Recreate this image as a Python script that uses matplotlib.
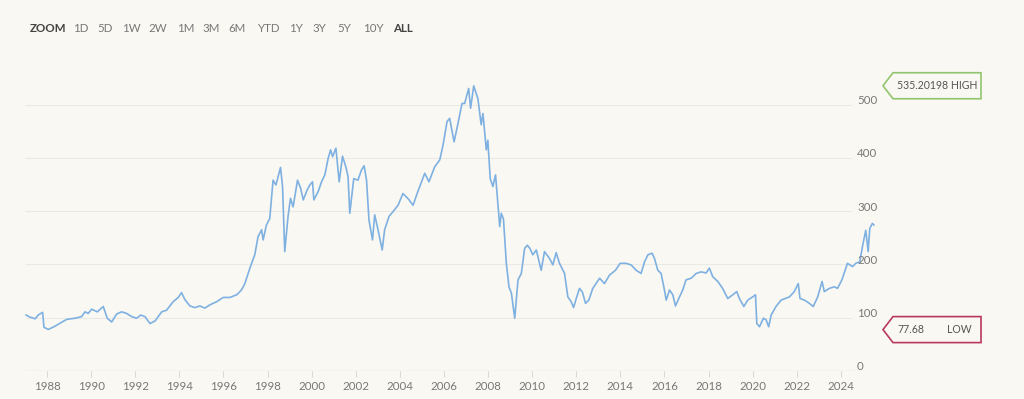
import matplotlib
matplotlib.use("Agg")
import matplotlib.pyplot as plt
import matplotlib.transforms as mtransforms
from matplotlib.patches import Polygon

# price history (decimal year, index level)
years = [
    1987.05, 1987.23, 1987.46, 1987.6, 1987.8, 1987.86, 1988.06, 1988.36, 1988.56, 1988.9,
    1989.27, 1989.57, 1989.72, 1989.87, 1990.02, 1990.28, 1990.55, 1990.73, 1990.93, 1991.16,
    1991.38, 1991.61, 1991.84, 1992.06, 1992.25, 1992.44, 1992.67, 1992.9, 1993.2, 1993.42,
    1993.72, 1993.95, 1994.1, 1994.25, 1994.48, 1994.7, 1994.93, 1995.16, 1995.38, 1995.69,
    1995.99, 1996.29, 1996.6, 1996.82, 1996.97, 1997.2, 1997.42, 1997.57, 1997.73, 1997.8,
    1997.95, 1998.1, 1998.25, 1998.38, 1998.59, 1998.68, 1998.78, 1998.93, 1999.04, 1999.16,
    1999.36, 1999.5, 1999.62, 1999.8, 1999.92, 2000.04, 2000.1, 2000.3, 2000.45, 2000.6,
    2000.75, 2000.86, 2000.95, 2001.1, 2001.25, 2001.4, 2001.55, 2001.65, 2001.73, 2001.91,
    2002.1, 2002.26, 2002.38, 2002.49, 2002.6, 2002.76, 2002.86, 2003.01, 2003.2, 2003.31,
    2003.51, 2003.69, 2003.92, 2004.14, 2004.4, 2004.6, 2004.82, 2005.13, 2005.32, 2005.58,
    2005.81, 2005.96, 2006.14, 2006.26, 2006.46, 2006.64, 2006.82, 2006.94, 2007.12, 2007.21,
    2007.35, 2007.54, 2007.69, 2007.77, 2007.92, 2007.99, 2008.1, 2008.22, 2008.34, 2008.53,
    2008.6, 2008.7, 2008.83, 2008.95, 2009.06, 2009.21, 2009.36, 2009.51, 2009.66, 2009.78,
    2009.9, 2010.03, 2010.19, 2010.41, 2010.56, 2010.79, 2010.94, 2011.09, 2011.24, 2011.47,
    2011.62, 2011.77, 2011.88, 2012.0, 2012.15, 2012.28, 2012.42, 2012.57, 2012.75, 2013.06,
    2013.28, 2013.51, 2013.78, 2013.99, 2014.26, 2014.49, 2014.72, 2014.94, 2015.1, 2015.25,
    2015.44, 2015.55, 2015.7, 2015.85, 2016.0, 2016.08, 2016.23, 2016.38, 2016.5, 2016.65,
    2016.83, 2016.98, 2017.21, 2017.44, 2017.66, 2017.89, 2018.04, 2018.19, 2018.42, 2018.64,
    2018.87, 2019.1, 2019.28, 2019.4, 2019.6, 2019.78, 2020.0, 2020.13, 2020.19, 2020.31,
    2020.49, 2020.61, 2020.73, 2020.84, 2021.06, 2021.29, 2021.48, 2021.67, 2021.89, 2022.07,
    2022.15, 2022.35, 2022.57, 2022.75, 2022.95, 2023.15, 2023.25, 2023.48, 2023.7, 2023.85,
    2024.05, 2024.3, 2024.53, 2024.68, 2024.86, 2024.98, 2025.13, 2025.24, 2025.31, 2025.43,
    2025.5,
]
values = [
    105, 101, 98, 105, 110, 82, 78, 84, 89, 97,
    99, 102, 111, 108, 116, 111, 121, 99, 92, 107,
    111, 108, 102, 99, 105, 102, 89, 94, 111, 114,
    130, 138, 147, 134, 122, 119, 122, 118, 124, 130,
    138, 138, 143, 152, 164, 193, 218, 252, 265, 246,
    274, 286, 358, 349, 382, 346, 224, 290, 324, 308,
    358, 343, 321, 340, 349, 355, 321, 337, 355, 368,
    399, 415, 402, 418, 355, 403, 383, 365, 296, 361,
    358, 377, 385, 358, 283, 246, 293, 265, 227, 265,
    290, 299, 311, 333, 322, 311, 337, 371, 355, 383,
    396, 424, 468, 474, 430, 465, 502, 502, 530, 493,
    535, 511, 462, 483, 415, 433, 361, 346, 368, 271,
    296, 285, 202, 158, 146, 99, 171, 183, 230, 236,
    230, 218, 227, 189, 224, 211, 199, 222, 202, 183,
    139, 130, 119, 136, 155, 148, 127, 133, 155, 174,
    164, 180, 189, 202, 202, 199, 189, 183, 205, 218,
    221, 211, 189, 183, 152, 133, 152, 143, 122, 136,
    152, 171, 174, 183, 186, 184, 193, 177, 168, 155,
    136, 143, 149, 136, 121, 133, 139, 143, 89, 83,
    99, 96, 83, 105, 121, 133, 136, 139, 149, 164,
    136, 133, 127, 121, 139, 168, 149, 155, 158, 155,
    171, 202, 196, 202, 205, 233, 264, 224, 267, 277,
    274,
]

ranges = ["ZOOM", "1D", "5D", "1W", "2W", "1M", "3M", "6M", "YTD", "1Y", "3Y", "5Y", "10Y", "ALL"]
x_ticks = list(range(1988, 2025, 2))
y_ticks = [0, 100, 200, 300, 400, 500]
high_value = 535.20198
low_value = 77.68

BG = "#faf8f2"
LINE = "#7eb1e2"
FONT = ["Lato", "DejaVu Sans"]
plt.rcParams["font.family"] = FONT

W, H = 1024, 399
fig = plt.figure(figsize=(W / 100, H / 100), dpi=100, facecolor=BG)

# axes: 1987.0 .. 2025.55 over px 25..875, y 0 at px 371, 53.3 px per 100
x0, x1 = 1987.0, 2025.55
ax_left, ax_right = 25, 875
y_bottom_px = 371
y_top = 580
y_top_px = y_bottom_px - y_top * 0.533
ax = fig.add_axes([ax_left / W, (H - y_bottom_px) / H,
                   (ax_right - ax_left) / W, (y_bottom_px - y_top_px) / H])
ax.set_facecolor(BG)
ax.set_xlim(x0, x1)
ax.set_ylim(0, y_top)

for s in ax.spines.values():
    s.set_visible(False)

# grid lines stop short of the y labels
grid_end = 1987.0 + (853 - ax_left) / 22.07
for v in y_ticks[1:]:
    ax.hlines(v, x0, grid_end, color="#ebe9e3", lw=0.8, zorder=1)
ax.hlines(0, x0, 1987.0 + (865 - ax_left) / 22.07, color="#d6d8dc", lw=0.9, zorder=1)

ax.plot(years, values, color=LINE, lw=1.2, zorder=3, solid_joinstyle="round")

ax.set_xticks(x_ticks)
ax.set_xticklabels([str(y) for y in x_ticks])
ax.tick_params(axis="x", length=4, width=0.8, color="#d6d8dc", labelcolor="#777777",
               labelsize=8.3, pad=3)
ax.set_yticks([])

ytrans = mtransforms.blended_transform_factory(ax.transAxes, ax.transData)
lab_x = (857 - ax_left) / (ax_right - ax_left)
for v in y_ticks:
    ax.text(lab_x, v + 4 / 0.533, str(v), transform=ytrans, ha="left", va="center",
            fontsize=8.3, color="#777777")


# flags for high and low marks
def flag(value, edge, parts):
    fx = lambda px: (px - ax_left) / (ax_right - ax_left)
    h = 13 / 0.533
    pts = [(fx(883), value), (fx(893), value + h), (fx(981), value + h),
           (fx(981), value - h), (fx(893), value - h)]
    poly = Polygon(pts, closed=True, transform=ytrans, facecolor=BG, edgecolor=edge,
                   lw=1.2, clip_on=False, zorder=5)
    ax.add_patch(poly)
    for px, txt in parts:
        ax.text(fx(px), value, txt, transform=ytrans, ha="left", va="center",
                fontsize=7.6, color="#555555", clip_on=False, zorder=6)


flag(high_value, "#92c56e", [(897, f"{high_value} HIGH")])
flag(low_value, "#b8385e", [(897, f"{low_value}"), (947, "LOW")])

# range selector row
range_x = [30, 73, 97, 122, 148, 177, 202, 228, 257, 289, 312, 337, 363, 393]
for px, lab in zip(range_x, ranges):
    bold = lab in ("ZOOM", "ALL")
    fig.text(px / W, 1 - 28 / H, lab, ha="left", va="center", fontsize=8.3,
             color="#444444" if bold else "#777777",
             fontweight="bold" if bold else "normal")

fig.savefig("out.png", dpi=100, facecolor=BG)
